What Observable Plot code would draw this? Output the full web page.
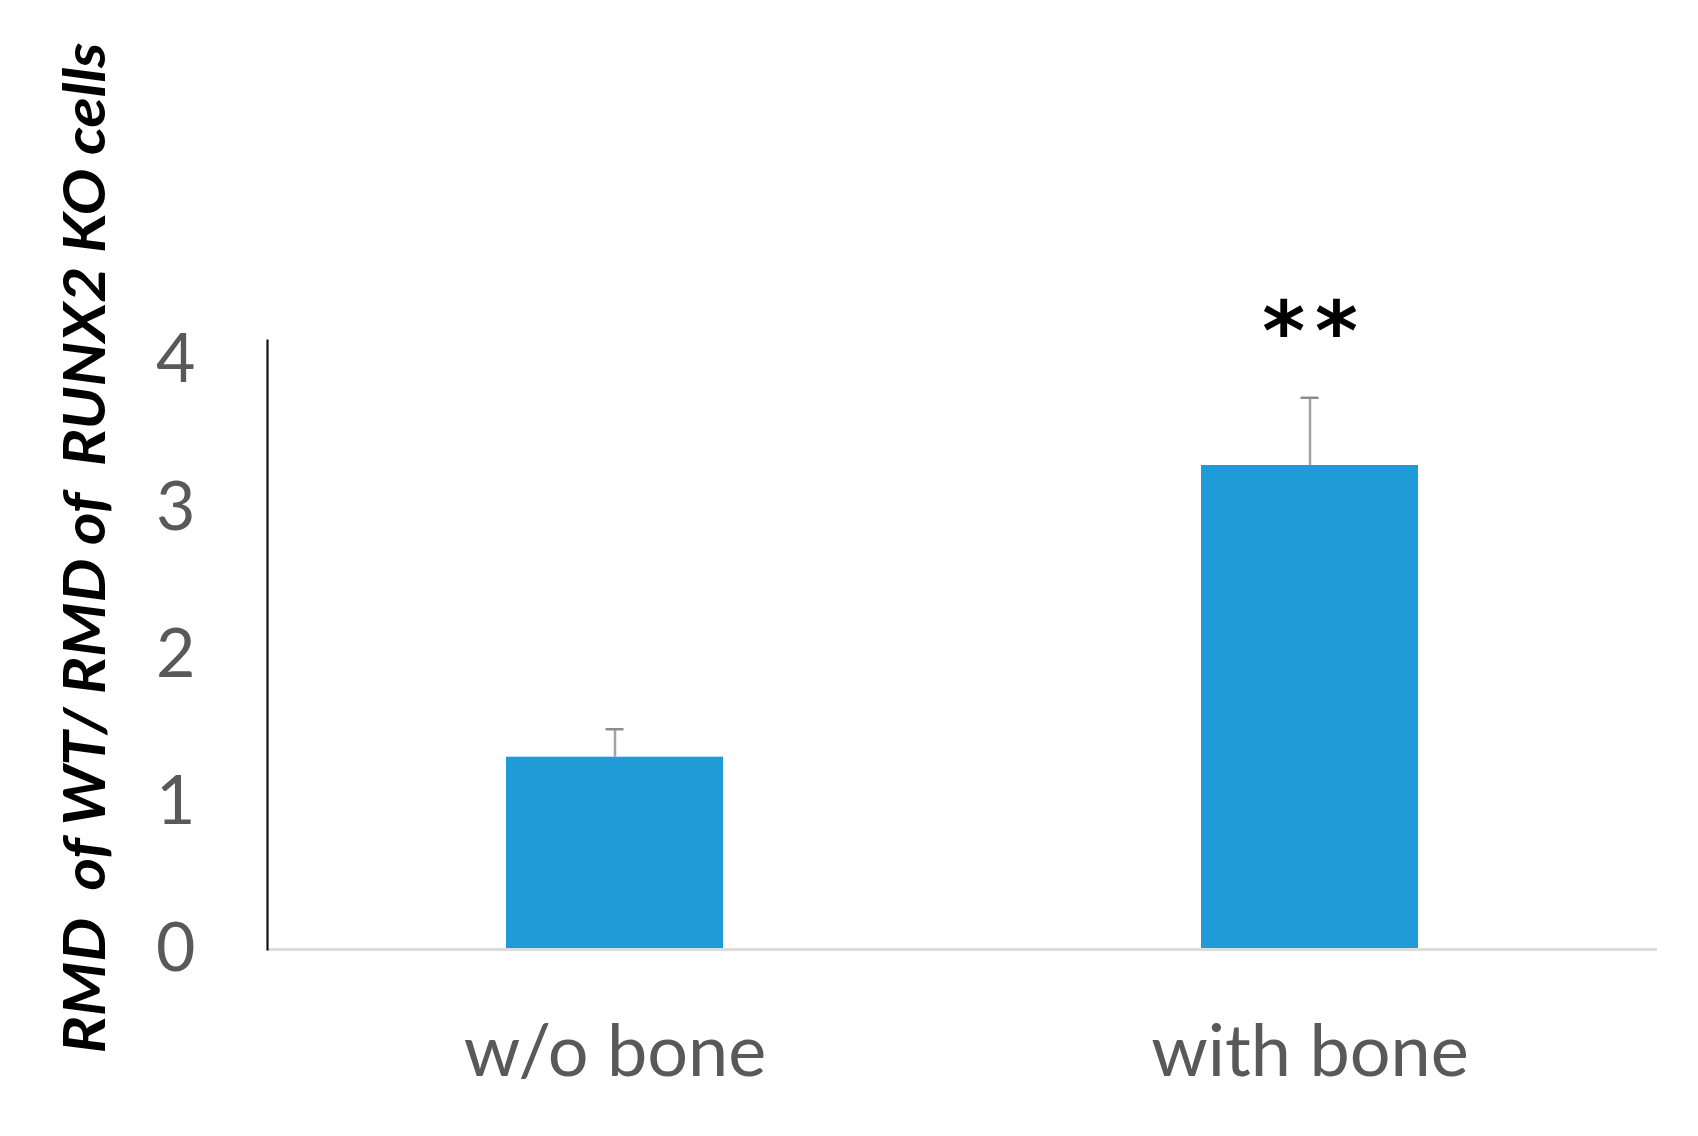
<!DOCTYPE html>
<html>
<head>
<meta charset="utf-8">
<script src="https://cdn.jsdelivr.net/npm/d3@7"></script>
<script src="https://cdn.jsdelivr.net/npm/@observablehq/plot@0.6"></script>
<style>
  html, body { margin: 0; padding: 0; background: #fff; }
  #chart { width: 1698px; height: 1136px; }
</style>
</head>
<body>
<div id="chart"></div>
<script>
// ---- data ----
const categories = ["w/o bone", "with bone"];
const means = [1.306, 3.287];
const errors = [0.19, 0.46];
const significance = ["", "**"];
const yTicks = [0, 1, 2, 3, 4];
const yTitle = "RMD  of WT/ RMD of  RUNX2 KO cells";

const data = categories.map((c, i) => ({
  category: c, mean: means[i], err: errors[i], sig: significance[i]
}));

const W = 1698, H = 1136;
const frameL = 267, frameR = 1657, frameT = 340, frameB = 949;
const band = (frameR - frameL) / categories.length;
const barWidth = 217, capWidth = 18;

const chart = Plot.plot({
  width: W,
  height: H,
  marginLeft: frameL,
  marginRight: W - frameR,
  marginTop: frameT,
  marginBottom: H - frameB,
  style: { background: "#fff", fontFamily: "Lato, sans-serif", overflow: "visible" },
  x: { domain: categories, padding: 0 },
  y: { domain: [0, 4.136] },
  marks: [
    Plot.barY(data, {
      x: "category", y: "mean", fill: "#1F9BD7",
      insetLeft: (band - barWidth) / 2, insetRight: (band - barWidth) / 2
    }),
    Plot.ruleX(data, {
      x: "category", y1: "mean", y2: d => d.mean + d.err,
      stroke: "#a3a3a3", strokeWidth: 2.5
    }),
    Plot.tickY(data, {
      x: "category", y: d => d.mean + d.err,
      stroke: "#8c8c8c", strokeWidth: 2.5,
      insetLeft: (band - capWidth) / 2, insetRight: (band - capWidth) / 2
    }),
    Plot.ruleY([0], { stroke: "#dcdcdc", strokeWidth: 3 }),
    Plot.frame({ anchor: "left", stroke: "#111", strokeWidth: 2.2 }),
    Plot.axisY({
      ticks: yTicks, tickFormat: d => String(d), tickSize: 0, tickPadding: 72, label: null,
      fontSize: 68, fontFamily: "Lato, sans-serif", color: "#595959"
    }),
    Plot.axisX({
      tickSize: 0, tickPadding: 75, label: null,
      fontSize: 72, fontFamily: "Lato, sans-serif", color: "#595959"
    }),
    Plot.text(data, {
      x: "category", y: d => d.mean + d.err, text: "sig",
      dy: -64, dx: 5, fontSize: 82, fontWeight: "bold",
      fontFamily: "DejaVu Sans, sans-serif", fill: "#000", lineAnchor: "middle",
      className: "sig"
    }),
    Plot.text([yTitle], {
      text: d => d, frameAnchor: "left", rotate: -90, textAnchor: "middle",
      dx: 86 - frameL, dy: (42 + 1053) / 2 - (frameT + frameB) / 2,
      fontSize: 58, fontWeight: "bold", fontStyle: "italic",
      fontFamily: "Lato, sans-serif", fill: "#000", lineAnchor: "middle",
      className: "ytitle"
    })
  ]
});

document.getElementById("chart").appendChild(chart);

// stretch the y title to the reference length
const t = chart.querySelector(".ytitle text");
if (t) {
  t.setAttribute("textLength", 1011);
  t.setAttribute("lengthAdjust", "spacingAndGlyphs");
}
chart.querySelectorAll(".sig text").forEach(s => s.style.letterSpacing = "10px");
</script>
</body>
</html>
